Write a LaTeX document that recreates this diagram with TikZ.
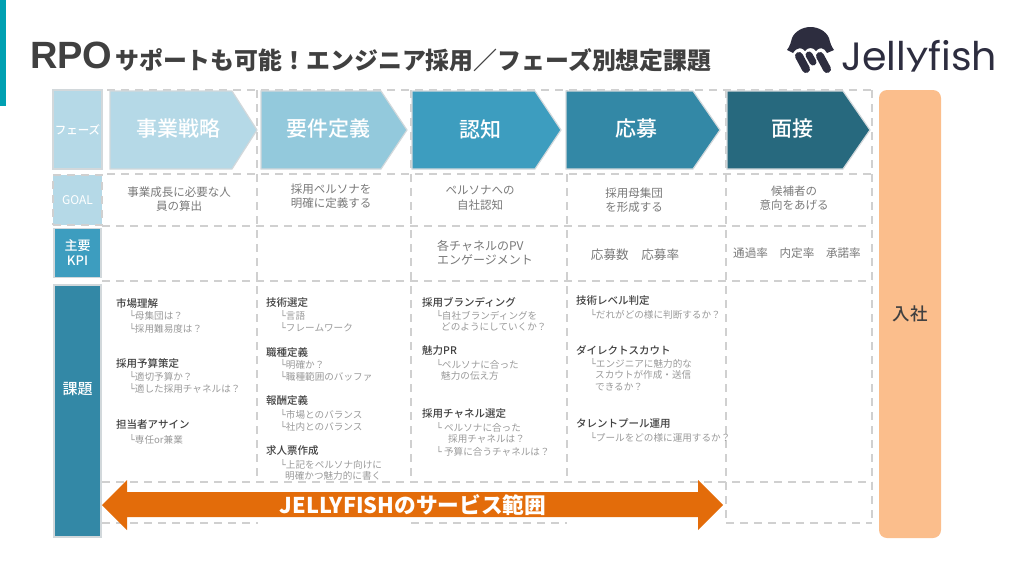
\documentclass[tikz,border=0pt]{standalone}
\usepackage{fontspec}
\setmainfont{Noto Sans CJK JP}
\newfontfamily\medfont{Noto Sans CJK JP Medium}
\newfontfamily\boxfont{DejaVu Sans Mono}
\newfontfamily\logofont{Poppins}
\newfontfamily\rpofont{Liberation Sans}
\definecolor{cA}{HTML}{B5D9E7}
\definecolor{cB}{HTML}{93C9DC}
\definecolor{cC}{HTML}{3D9DBF}
\definecolor{cD}{HTML}{3388A6}
\definecolor{cE}{HTML}{27697E}
\definecolor{dashc}{HTML}{D0D0D0}
\definecolor{edgec}{HTML}{D2D8DB}
\definecolor{orangeA}{HTML}{E36C0A}
\definecolor{peach}{HTML}{FBBE8C}
\definecolor{tealbar}{HTML}{00A0B2}
\definecolor{ink}{HTML}{404040}
\definecolor{logoc}{HTML}{2D2D3F}
\newcommand{\Lk}{{\boxfont\char"2514}}
\tikzset{
 x=1pt,y=-1pt,
 grid/.style={draw=dashc,line width=1.2pt,dash pattern=on 8pt off 6pt},
 chev/.style={draw=edgec,line width=1.2pt,line join=miter},
 phase/.style={text=white,font=\medfont\fontsize{21}{24}\selectfont},
 side/.style={text=white,font=\medfont\fontsize{13}{15}\selectfont,align=center},
 goal/.style={text=gray!95!black,font=\fontsize{11.5}{14.5}\selectfont,align=center,inner sep=0pt},
 kpi/.style={text=gray!95!black,font=\fontsize{12}{14}\selectfont,align=left,inner sep=0pt},
 head/.style={anchor=west,inner sep=0pt,text=ink,font=\medfont\fontsize{10.5}{12}\selectfont},
 sub/.style={anchor=west,inner sep=0pt,text=gray!80,font=\fontsize{9.6}{12}\selectfont},
}
\begin{document}
\begin{tikzpicture}
\useasboundingbox (0,0) rectangle (1024,576);
\fill[tealbar] (0,0) rectangle (6,106);
% title
\node[anchor=base west,inner sep=0pt,text=ink,font=\rpofont\bfseries\fontsize{38}{44}\selectfont] (rpo) at (30,68) {RPO};
\node[anchor=base west,inner sep=0pt,text=ink,font=\bfseries\fontsize{23.9}{28}\selectfont] (title) at (115,69) {サポートも可能！エンジニア採用／フェーズ別想定課題};
% logo
\fill[logoc] (787,50) .. controls (790,46) and (791,42) .. (792,38) .. controls (795,31) and (803,27) .. (810.5,27) .. controls (818,27) and (826,31) .. (829,38) .. controls (830,42) and (831,46) .. (834,50) -- (827,53) .. controls (824,47) and (819,47) .. (816,51) .. controls (813,47) and (808,47) .. (805,51) .. controls (802,47) and (797,47) .. (793,53) -- cycle;
\draw[logoc,line width=8pt,line cap=round] (799,56) -- (806,69);
\draw[logoc,line width=7pt,line cap=round] (809,55) -- (813,62);
\draw[logoc,line width=8pt,line cap=round] (820,56) -- (827,69);
\node[anchor=base west,inner sep=0pt,text=logoc,font=\logofont\fontsize{39.5}{44}\selectfont] (logo) at (841,70) {Jell\raisebox{.15em}{\scalebox{1}[0.75]{y}}fish};
% grid
\draw[grid] (107,90) -- (872,90);
\draw[grid] (107,174) -- (872,174);
\draw[grid] (102,226) -- (872,226);
\draw[grid] (102,281) -- (872,281);
\draw[grid] (102,482) -- (872,482);
\draw[grid] (102,523) -- (258,523);
\draw[grid] (411,523) -- (567,523);
\draw[grid] (726,523) -- (872,523);
\foreach \gx in {257,411,567} \draw[grid] (\gx,90) -- (\gx,482);
\draw[grid] (726,90) -- (726,523);
\draw[grid] (872,90) -- (872,523);
% left column
\node[chev,fill=cA,minimum width=49pt,minimum height=79pt,inner sep=0pt,side,font=\medfont\fontsize{11.5}{12}\selectfont] (phLab) at (77.5,129.5) {フェーズ};
\node[fill=cA,grid,minimum width=49pt,minimum height=50pt,inner sep=0pt,side,font=\fontsize{12}{15}\selectfont] (goalLab) at (77.5,200) {GOAL};
\node[chev,fill=cC,minimum width=47pt,minimum height=49pt,inner sep=0pt,side] (kpiLab) at (77.5,253) {主要\\KPI};
\node[chev,fill=cD,minimum width=47pt,minimum height=252pt,inner sep=0pt,side,font=\medfont\fontsize{15}{16}\selectfont] (issueLab) at (77.5,411) {};
\node[inner sep=0pt,side,font=\medfont\fontsize{15}{16}\selectfont] (issueT) at (77.5,389) {課題};
% chevrons
\newcommand{\chevron}[7]{% name, x0, shoulder, tip, colour, text, text x
 \draw[chev,fill=#5] (#2,91) -- (#3,91) -- (#4,130) -- (#3,169) -- (#2,169) -- cycle;
 \node[phase] (#1) at (#7,129) {#6};}
\chevron{p1}{110}{232}{257}{cA}{事業戦略}{178}
\chevron{p2}{261}{381}{407}{cB}{要件定義}{328}
\chevron{p3}{412}{535}{561}{cC}{認知}{480}
\chevron{p4}{566}{693}{720}{cD}{応募}{636}
\chevron{p5}{727}{843}{870}{cE}{面接}{792}
% entry
\node[fill=peach,rounded corners=8pt,minimum width=62pt,minimum height=448pt,inner sep=0pt] (entry) at (910,314) {};
\node[text=ink,font=\medfont\fontsize{17.5}{20}\selectfont,inner sep=0pt] (entryT) at (910,314) {入社};
% goals
\node[goal] (g1) at (179,199) {事業成長に必要な人\\員の算出};
\node[goal] (g2) at (331,196) {採用ペルソナを\\明確に定義する};
\node[goal] (g3) at (480,198) {ペルソナへの\\自社認知};
\node[goal] (g4) at (634,200) {採用母集団\\を形成する};
\node[goal] (g5) at (794,198) {候補者の\\意向をあげる};
% KPI
\node[kpi,anchor=west] (k3) at (437,253) {各チャネルのPV\\エンゲージメント};
\node[kpi,font=\fontsize{12.6}{14}\selectfont] (k4) at (635,255) {応募数　応募率};
\node[kpi,font=\fontsize{11.6}{14}\selectfont] (k5) at (797,253) {通過率　内定率　承諾率};
% issues col 1
\node[head] (a1) at (116,303) {市場理解};
\node[sub] (a2) at (129,315) {\Lk 母集団は？};
\node[sub] (a3) at (129,328) {\Lk 採用難易度は？};
\node[head] (a4) at (116,364) {採用予算策定};
\node[sub] (a5) at (129,376) {\Lk 適切予算か？};
\node[sub] (a6) at (129,388) {\Lk 適した採用チャネルは？};
\node[head] (a7) at (116,425) {担当者アサイン};
\node[sub] (a8) at (129,439) {\Lk 専任or兼業};
% col 2
\node[head] (b1) at (266,303) {技術選定};
\node[sub] (b2) at (280,315) {\Lk 言語};
\node[sub] (b3) at (280,327) {\Lk フレームワーク};
\node[head] (b4) at (266,353) {職種定義};
\node[sub] (b5) at (280,364) {\Lk 明確か？};
\node[sub] (b6) at (280,376) {\Lk 職種範囲のバッファ};
\node[head] (b7) at (266,401) {報酬定義};
\node[sub] (b8) at (280,414) {\Lk 市場とのバランス};
\node[sub] (b9) at (280,426) {\Lk 社内とのバランス};
\node[head] (b10) at (266,451) {求人票作成};
\node[sub] (b11) at (280,464) {\Lk 上記をペルソナ向けに};
\node[sub] (b12) at (285,476) {明確かつ魅力的に書く};
% col 3
\node[head] (c1) at (422,302) {採用ブランディング};
\node[sub] (c2) at (436,315) {\Lk 自社ブランディングを};
\node[sub] (c3) at (441,327) {どのようにしていくか？};
\node[head] (c4) at (422,351) {魅力PR};
\node[sub] (c5) at (436,364) {\Lk ペルソナに合った};
\node[sub] (c6) at (441,376) {魅力の伝え方};
\node[head] (c7) at (422,414) {採用チャネル選定};
\node[sub] (c8) at (436,427) {\Lk{} ペルソナに合った};
\node[sub] (c9) at (448,439) {採用チャネルは？};
\node[sub] (c10) at (436,451) {\Lk{} 予算に合うチャネルは？};
% col 4
\node[head] (d1) at (576,301) {技術レベル判定};
\node[sub] (d2) at (590,314) {\Lk だれがどの様に判断するか？};
\node[head] (d3) at (576,350) {ダイレクトスカウト};
\node[sub] (d4) at (590,363) {\Lk エンジニアに魅力的な};
\node[sub] (d5) at (595,375) {スカウトが作成・送信};
\node[sub] (d6) at (595,387) {できるか？};
\node[head] (d7) at (576,424) {タレントプール運用};
\node[sub] (d8) at (590,437) {\Lk プールをどの様に運用するか？};
% range arrow
\fill[orangeA] (102,505) -- (127,480) -- (127,492) -- (698,492) -- (698,480) -- (723,505) -- (698,530) -- (698,517) -- (127,517) -- (127,530) -- cycle;
\node[text=white,font=\bfseries\fontsize{21.7}{24}\selectfont,inner sep=0pt] (range) at (413,505) {JELLYFISHのサービス範囲};
\end{tikzpicture}
\end{document}
